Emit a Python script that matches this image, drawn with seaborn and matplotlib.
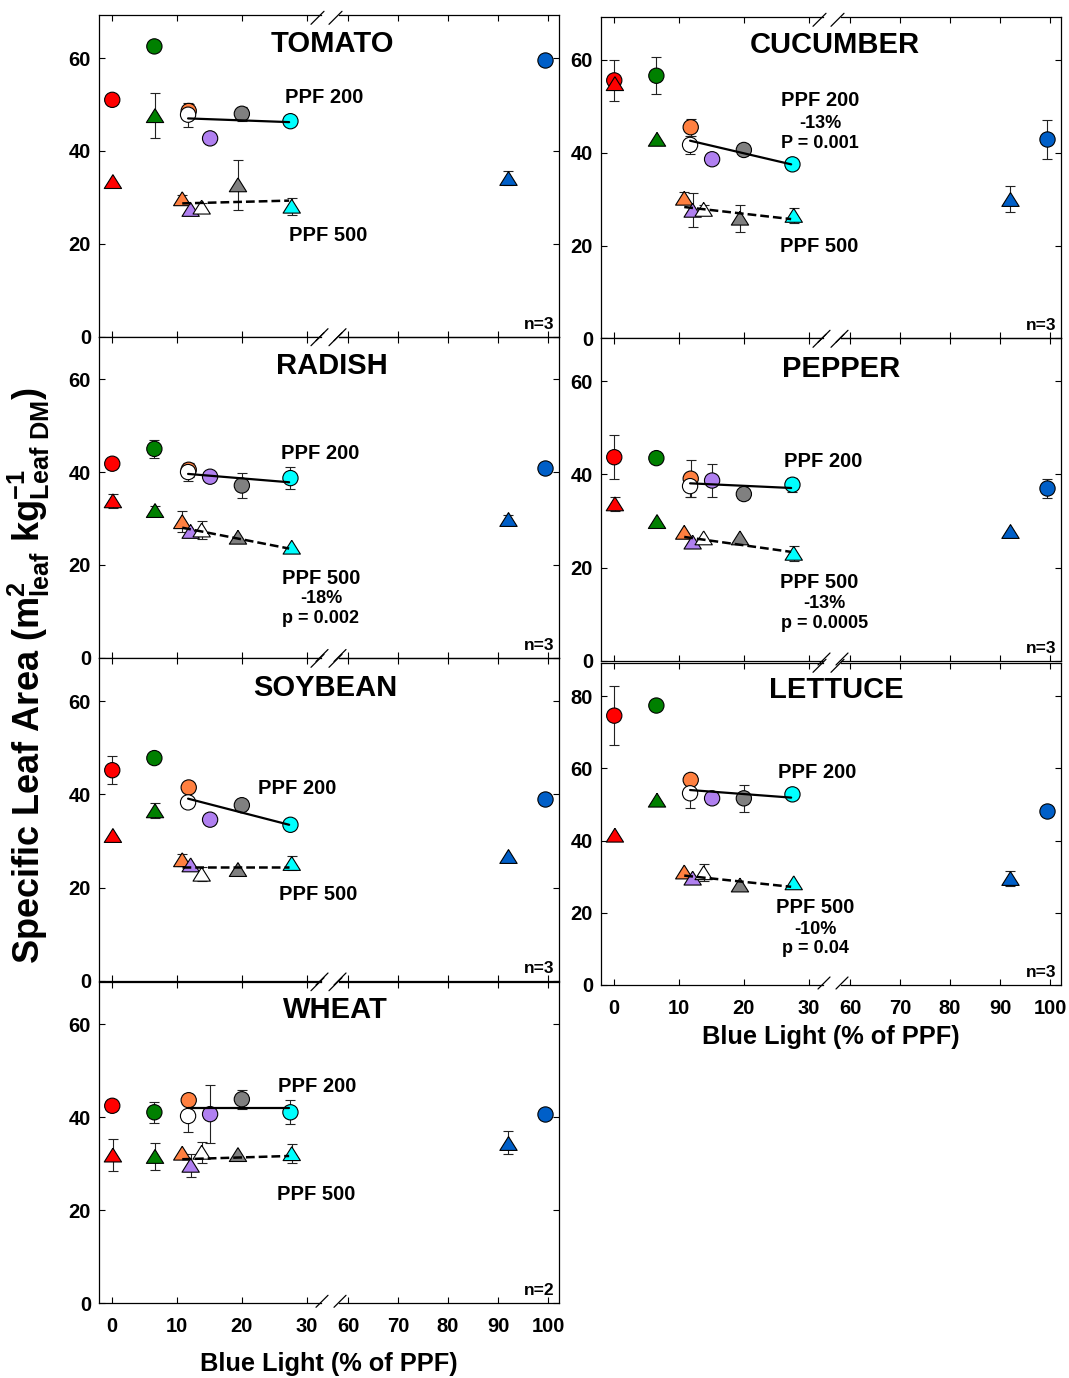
import numpy as np
import pandas as pd
import matplotlib
matplotlib.use("Agg")
import matplotlib.pyplot as plt
import seaborn as sns
from matplotlib.lines import Line2D

# ---------------- data ----------------
TREATMENTS = ["red", "green", "orange", "purple", "white", "gray", "cyan", "blue"]
PALETTE = {"red": "#FF0000", "green": "#008000", "orange": "#FF8040",
           "purple": "#B080F0", "white": "#FFFFFF", "gray": "#808080",
           "cyan": "#00FFFF", "blue": "#005FC8"}

# blue light (% of PPF) of each treatment
X200 = [0.0, 6.5, 11.8, 15.1, 11.7, 20.0, 27.5, 99.5]
X500 = [0.1, 6.6, 10.8, 12.1, 13.8, 19.4, 27.7, 92.0]

CROPS = ["TOMATO", "RADISH", "SOYBEAN", "WHEAT", "CUCUMBER", "PEPPER", "LETTUCE"]

Y200 = {
    "TOMATO":   [51.0, 62.5, 48.6, 42.7, 47.8, 48.0, 46.4, 59.6],
    "CUCUMBER": [55.6, 56.6, 45.5, 38.6, 41.7, 40.6, 37.5, 42.9],
    "RADISH":   [41.8, 45.0, 40.5, 39.0, 40.0, 37.1, 38.7, 40.8],
    "PEPPER":   [43.7, 43.5, 39.1, 38.7, 37.5, 35.8, 37.8, 37.0],
    "SOYBEAN":  [45.2, 47.8, 41.5, 34.6, 38.3, 37.7, 33.5, 39.1],
    "LETTUCE":  [74.6, 77.4, 56.8, 51.7, 53.1, 51.7, 52.8, 48.1],
    "WHEAT":    [42.5, 41.1, 43.7, 40.7, 40.3, 43.9, 41.1, 40.7],
}
E200 = {
    "TOMATO":   [0, 0, 1.5, 0, 2.6, 1.5, 0, 0],
    "CUCUMBER": [4.5, 4.0, 1.8, 0, 2.0, 0.8, 0, 4.2],
    "RADISH":   [0, 2.0, 1.5, 0, 2.0, 2.8, 2.3, 0],
    "PEPPER":   [4.7, 0, 4.0, 3.6, 2.3, 0, 1.5, 2.1],
    "SOYBEAN":  [3.0, 0, 0, 1.0, 0, 0, 1.0, 0],
    "LETTUCE":  [8.2, 0, 1.0, 0, 4.2, 3.8, 0, 0],
    "WHEAT":    [0, 2.3, 0.6, 6.2, 3.4, 2.0, 2.6, 0],
}
Y500 = {
    "TOMATO":   [33.4, 47.6, 29.7, 27.4, 27.9, 32.7, 28.1, 34.2],
    "CUCUMBER": [54.9, 42.9, 30.2, 27.6, 27.8, 25.9, 26.5, 30.0],
    "RADISH":   [33.8, 31.7, 29.3, 27.2, 27.5, 25.95, 23.8, 29.9],
    "PEPPER":   [33.7, 29.9, 27.6, 25.5, 26.4, 26.4, 23.1, 27.8],
    "SOYBEAN":  [31.2, 36.5, 26.0, 24.9, 22.9, 23.9, 25.2, 26.8],
    "LETTUCE":  [41.5, 51.2, 31.3, 29.6, 31.1, 27.7, 28.3, 29.6],
    "WHEAT":    [31.9, 31.6, 32.3, 29.7, 32.5, 32.0, 32.2, 34.6],
}
E500 = {
    "TOMATO":   [0, 4.8, 0.8, 0, 0.8, 5.4, 1.8, 1.5],
    "CUCUMBER": [0, 0, 1.3, 3.7, 1.0, 2.9, 1.6, 2.8],
    "RADISH":   [1.5, 1.0, 2.2, 0, 1.9, 0, 0, 0.8],
    "PEPPER":   [1.5, 0, 0, 0, 0, 0, 1.6, 0],
    "SOYBEAN":  [0, 1.6, 1.3, 0, 1.5, 0, 1.5, 0],
    "LETTUCE":  [0, 0, 0, 0, 2.4, 0, 0, 2.1],
    "WHEAT":    [3.5, 2.9, 0, 2.5, 2.3, 0, 2.0, 2.5],
}

# regression line end points
FIT_X200 = [11.7, 27.3]
FIT_X500 = [10.8, 27.3]
FIT200 = {
    "TOMATO": [47.0, 46.2], "CUCUMBER": [42.6, 37.5], "RADISH": [39.6, 37.8],
    "PEPPER": [38.1, 37.1], "SOYBEAN": [39.1, 33.5], "LETTUCE": [54.0, 51.9],
    "WHEAT": [42.1, 42.1],
}
FIT500 = {
    "TOMATO": [28.7, 29.3], "CUCUMBER": [28.3, 25.7], "RADISH": [28.0, 23.5],
    "PEPPER": [26.6, 23.4], "SOYBEAN": [24.4, 24.4], "LETTUCE": [30.3, 27.2],
    "WHEAT": [31.0, 31.7],
}

N_LABEL = {"TOMATO": "n=3", "CUCUMBER": "n=3", "RADISH": "n=3", "PEPPER": "n=3",
           "SOYBEAN": "n=3", "LETTUCE": "n=3", "WHEAT": "n=2"}

# text labels: (text, x, y, size-class)
LABELS = {
    "TOMATO": [("TOMATO", 33.9, 63.0, "t"), ("PPF 200", 32.7, 51.5, "p"), ("PPF 500", 33.3, 21.7, "p")],
    "CUCUMBER": [("CUCUMBER", 34.1, 63.2, "t"), ("PPF 200", 31.8, 51.2, "p"),
                 ("-13%", 31.8, 46.4, "s"), ("P = 0.001", 31.8, 41.9, "s"), ("PPF 500", 31.7, 19.8, "p")],
    "RADISH": [("RADISH", 33.9, 62.9, "t"), ("PPF 200", 32.1, 44.0, "p"), ("PPF 500", 32.2, 17.1, "p"),
               ("-18%", 32.2, 12.7, "s"), ("p = 0.002", 32.2, 8.5, "s")],
    "PEPPER": [("PEPPER", 35.0, 62.6, "t"), ("PPF 200", 32.3, 42.8, "p"), ("PPF 500", 31.7, 16.9, "p"),
               ("-13%", 32.5, 12.4, "s"), ("p = 0.0005", 32.5, 8.1, "s")],
    "SOYBEAN": [("SOYBEAN", 32.9, 62.9, "t"), ("PPF 200", 28.5, 41.2, "p"), ("PPF 500", 31.8, 18.5, "p")],
    "LETTUCE": [("LETTUCE", 34.3, 81.7, "t"), ("PPF 200", 31.3, 58.9, "p"), ("PPF 500", 31.0, 21.5, "p"),
                ("-10%", 31.0, 15.5, "s"), ("p = 0.04", 31.0, 10.1, "s")],
    "WHEAT": [("WHEAT", 34.5, 63.1, "t"), ("PPF 200", 31.7, 46.7, "p"), ("PPF 500", 31.4, 23.5, "p")],
}

XTICKS_LEFT = [0, 10, 20, 30]
XTICKS_RIGHT = [60, 70, 80, 90, 100]

# ---------------- style ----------------
sns.set_style("ticks")
plt.rcParams["font.family"] = ["Liberation Sans", "DejaVu Sans"]
plt.rcParams["font.weight"] = "bold"
plt.rcParams["text.color"] = "black"
plt.rcParams["axes.labelcolor"] = "black"
plt.rcParams["xtick.color"] = "black"
plt.rcParams["ytick.color"] = "black"
plt.rcParams["axes.edgecolor"] = "black"
plt.rcParams["mathtext.fontset"] = "custom"
plt.rcParams["mathtext.rm"] = "Liberation Sans:bold"
plt.rcParams["mathtext.it"] = "Liberation Sans:bold"
plt.rcParams["mathtext.bf"] = "Liberation Sans:bold"
plt.rcParams["mathtext.default"] = "rm"

W, H = 1069, 1378
fig = plt.figure(figsize=(W / 100, H / 100), dpi=100)

COL_X = [99.3, 601.3]
HALF = 229.7
# crop -> (column, top px, bottom px)
LAYOUT = {
    "TOMATO": (0, 15.3, 336.7), "RADISH": (0, 336.7, 657.5),
    "SOYBEAN": (0, 658.3, 981.0), "WHEAT": (0, 981.7, 1303.3),
    "CUCUMBER": (1, 17.3, 338.3), "PEPPER": (1, 338.3, 661.0),
    "LETTUCE": (1, 663.3, 985.0),
}
FS = {"t": 21, "p": 14.5, "s": 13}
TRI = [(0, 0.8), (-1, -0.8), (1, -0.8), (0, 0.8)]


def fig_line(xs, ys):
    fig.add_artist(Line2D([x / W for x in xs], [1 - y / H for y in ys],
                          transform=fig.transFigure, color="black", lw=0.9))


def draw_group(axL, axR, xs, ys, es, marker, size):
    df = pd.DataFrame({"x": xs, "y": ys, "e": es, "trt": TREATMENTS})
    for ax, sub in ((axL, df[df.x < 45]), (axR, df[df.x >= 45])):
        eb = sub[sub.e > 0]
        if len(eb):
            ax.errorbar(eb.x, eb.y, yerr=eb.e, fmt="none", ecolor="#222222",
                        elinewidth=0.8, capsize=3.5, capthick=0.8, zorder=2)
        sns.scatterplot(data=sub, x="x", y="y", hue="trt", palette=PALETTE,
                        marker=marker, s=size, edgecolor="black", linewidth=0.8,
                        legend=False, ax=ax, zorder=3)


for crop in CROPS:
    col, top, bot = LAYOUT[crop]
    x0 = COL_X[col]
    ymax = 89.1 if crop == "LETTUCE" else 69.2
    yticks = [0, 20, 40, 60, 80] if crop == "LETTUCE" else [0, 20, 40, 60]
    h = (bot - top) / H
    axL = fig.add_axes([x0 / W, 1 - bot / H, HALF / W, h])
    axR = fig.add_axes([(x0 + HALF) / W, 1 - bot / H, HALF / W, h])
    axR.patch.set_visible(False)

    draw_group(axL, axR, X200, Y200[crop], E200[crop], "o", 121)
    draw_group(axL, axR, X500, Y500[crop], E500[crop], TRI, 155)

    sns.lineplot(x=FIT_X200, y=FIT200[crop], ax=axL, color="black", linewidth=1.6,
                 errorbar=None, zorder=4)
    sns.lineplot(x=FIT_X500, y=FIT500[crop], ax=axL, color="black", linewidth=1.8,
                 linestyle=(0, (3.5, 1.6)), errorbar=None, zorder=4)

    show_x = crop in ("WHEAT", "LETTUCE")
    for ax, lim, ticks in ((axL, (-2.0, 33.45), XTICKS_LEFT), (axR, (56.2, 102.15), XTICKS_RIGHT)):
        ax.set_xlim(*lim)
        ax.set_ylim(0, ymax)
        ax.set_xticks(ticks)
        ax.set_yticks(yticks)
        ax.set_xlabel("")
        ax.set_ylabel("")
        for s in ax.spines.values():
            s.set_linewidth(0.9)
            s.set_color("black")
        ax.tick_params(direction="in", length=4, width=0.8, top=True, bottom=True,
                       labelsize=14.5, labelbottom=show_x, pad=6, colors="black")
    axL.spines["right"].set_visible(False)
    axR.spines["left"].set_visible(False)
    axL.tick_params(left=True, right=False, labelleft=True)
    axR.tick_params(left=False, right=True, labelleft=False)
    axL.tick_params(axis="x", pad=10)
    axR.tick_params(axis="x", pad=10)
    axL.spines["top"].set_bounds(-2.0, 32.2)
    axL.spines["bottom"].set_bounds(-2.0, 32.2)
    axR.spines["top"].set_bounds(58.3, 102.15)
    axR.spines["bottom"].set_bounds(58.3, 102.15)
    for lab in axL.get_xticklabels() + axR.get_xticklabels() + axL.get_yticklabels():
        lab.set_fontweight("bold")

    # break marks
    J = x0 + HALF
    for cx in (J - 9, J + 9):
        fig_line([cx - 9, cx + 4], [top + 9, top - 4])
        fig_line([cx - 4, cx + 8], [bot + 4, bot - 8])

    for txt, tx, ty, kind in LABELS[crop]:
        axL.text(tx, ty, txt, ha="center", va="center", fontsize=FS[kind],
                 fontweight="bold", clip_on=False, zorder=10)
    axR.text(0.98, 0.015, N_LABEL[crop], transform=axR.transAxes, ha="right",
             va="bottom", fontsize=12.5, fontweight="bold")

fig.text(29 / W, 1 - 676 / H,
         r"Specific Leaf Area (m$^{2}_{leaf}$ kg$^{-1}_{Leaf\ DM}$)",
         rotation=90, ha="center", va="center", fontsize=26, fontweight="bold")
fig.text(329 / W, 1 - 1364 / H, "Blue Light (% of PPF)", ha="center", va="center",
         fontsize=18.3, fontweight="bold")
fig.text(831 / W, 1 - 1037 / H, "Blue Light (% of PPF)", ha="center", va="center",
         fontsize=18.3, fontweight="bold")

fig.savefig("out.png", dpi=100)
